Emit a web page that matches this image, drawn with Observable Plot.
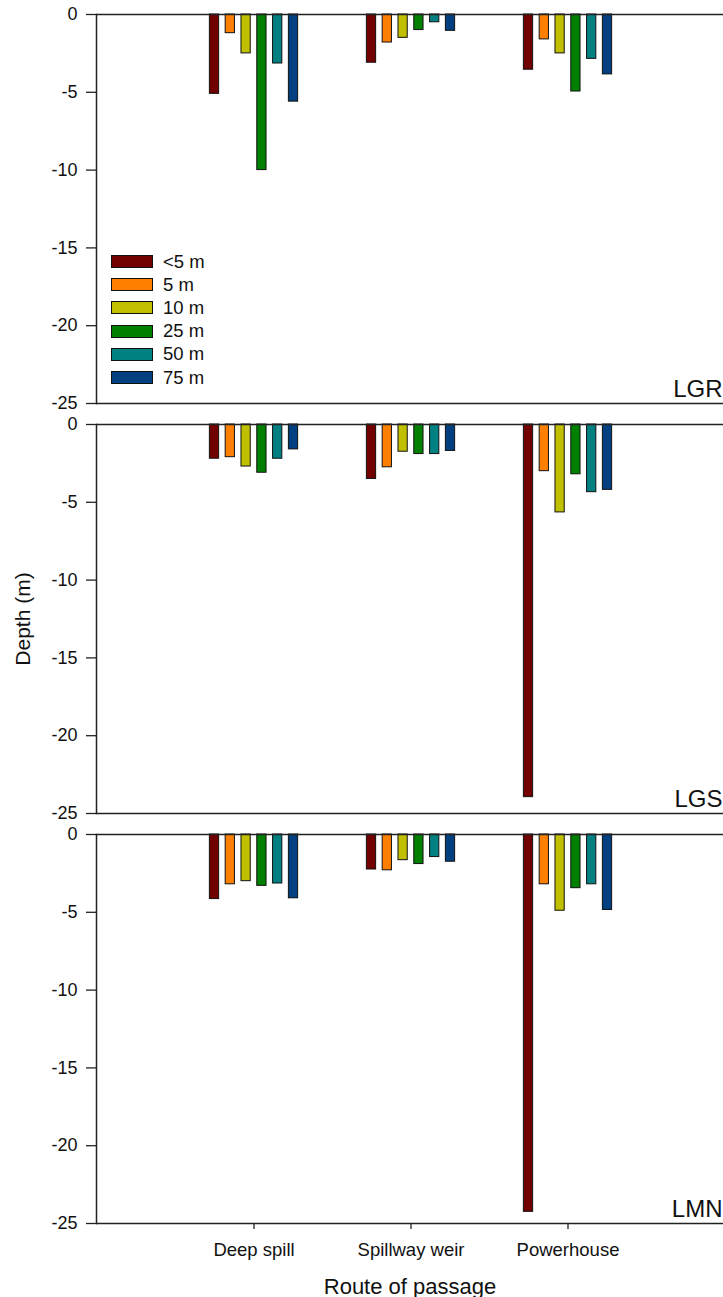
<!DOCTYPE html>
<html>
<head>
<meta charset="utf-8">
<script src="https://cdn.jsdelivr.net/npm/d3@7"></script>
<script src="https://cdn.jsdelivr.net/npm/@observablehq/plot@0.6"></script>
<style>
  html, body { margin: 0; padding: 0; background: #fff; overflow: hidden; }
  #chart { position: relative; width: 723px; height: 1297px; font-family: "Liberation Sans", Arial, sans-serif; }
  #chart svg { display: block; }
  .legend { position: absolute; left: 111px; top: 250px; }
  .legend .row { display: flex; align-items: center; height: 23.2px; font-size: 18.5px; color: #111; }
  .legend .sw { width: 40px; height: 11px; border: 1.2px solid #111; margin-right: 10px; }
  g[aria-label="x-axis label"] text { font-size: 22px; }
  g[aria-label="fy-axis label"] text { font-size: 21px; }
  g[aria-label="x-axis tick label"] text { font-size: 18.5px; }
  g[aria-label="y-axis tick label"] text { font-size: 18px; }
</style>
</head>
<body>
<div id="chart"></div>
<script>
// Dams (one panel each), passage routes and depth classes
const dams = ["LGR", "LGS", "LMN"];
const routes = ["Deep spill", "Spillway weir", "Powerhouse"];
const classes = ["<5 m", "5 m", "10 m", "25 m", "50 m", "75 m"];
const colors = ["#730000", "#ff8000", "#c0c000", "#008000", "#008080", "#003f80"];
const yTicks = [0, -5, -10, -15, -20, -25];

// Mean passage depth (m); one row per route, one column per depth class
const depthLGR = [
  [-5.1, -1.2, -2.5, -10.0, -3.15, -5.6],
  [-3.1, -1.8, -1.5, -1.0, -0.5, -1.05],
  [-3.55, -1.6, -2.5, -4.95, -2.85, -3.85]
];
const depthLGS = [
  [-2.2, -2.1, -2.7, -3.1, -2.2, -1.6],
  [-3.5, -2.75, -1.75, -1.9, -1.9, -1.7],
  [-23.95, -3.0, -5.65, -3.2, -4.35, -4.2]
];
const depthLMN = [
  [-4.15, -3.2, -3.0, -3.3, -3.15, -4.1],
  [-2.25, -2.3, -1.65, -1.9, -1.45, -1.75],
  [-24.25, -3.2, -4.9, -3.45, -3.2, -4.85]
];

const byDam = {LGR: depthLGR, LGS: depthLGS, LMN: depthLMN};
const rows = [];
for (const dam of dams) {
  byDam[dam].forEach((vals, r) => {
    vals.forEach((v, c) => rows.push({dam, route: routes[r], cls: classes[c], depth: v}));
  });
}

// grouped bars: each depth class is its own bar mark, shifted within the route band
const band = 157.25, barW = 9.5, barStep = 15.8;
const barMarks = classes.map((cls, i) =>
  Plot.barY(rows.filter(d => d.cls === cls), {
    fy: "dam",
    x: "route",
    y1: 0,
    y2: "depth",
    fill: "cls",
    stroke: "#111",
    strokeWidth: 1,
    insetLeft: (band - barW) / 2,
    insetRight: (band - barW) / 2,
    dx: (i - 2.5) * barStep
  })
);

const chart = Plot.plot({
  width: 723,
  height: 1297,
  marginTop: 13,
  marginBottom: 74,
  marginLeft: 96,
  marginRight: 0,
  style: {fontFamily: "'Liberation Sans', Arial, sans-serif", fontSize: "17px", color: "#111", background: "#fff"},
  x: {domain: routes, range: [96, 725], paddingInner: 0, paddingOuter: 0.5, align: 0.5},
  y: {domain: [-25, 0]},
  fy: {domain: dams, paddingInner: 0.0524, paddingOuter: 0},
  color: {domain: classes, range: colors},
  marks: [
    ...barMarks,
    Plot.ruleY([0, -25], {stroke: "#222", strokeWidth: 1.5}),
    Plot.frame({anchor: "left", stroke: "#222", strokeWidth: 1.5}),
    Plot.text(dams, {fy: d => d, text: d => d, frameAnchor: "bottom-right", dx: -1, dy: -7, fontSize: 24}),
    Plot.axisY({ticks: yTicks, tickSize: 10, tickPadding: 9, tickFormat: d => `${d}`, label: null, stroke: "#222", strokeWidth: 1.3}),
    Plot.axisX({tickSize: 6, tickPadding: 13, label: "Route of passage", labelAnchor: "center", labelOffset: 70, stroke: "#222", strokeWidth: 1.3}),
    Plot.axisFy({anchor: "left", tickSize: 0, tickFormat: () => "", label: "Depth (m)", labelAnchor: "center", labelOffset: 81})
  ]
});

const root = document.getElementById("chart");
root.appendChild(chart);

// legend for the depth classes, drawn over the top panel
const legend = document.createElement("div");
legend.className = "legend";
classes.forEach((c, i) => {
  const row = document.createElement("div");
  row.className = "row";
  const sw = document.createElement("span");
  sw.className = "sw";
  sw.style.background = colors[i];
  const lab = document.createElement("span");
  lab.textContent = c;
  row.append(sw, lab);
  legend.appendChild(row);
});
root.appendChild(legend);
</script>
</body>
</html>
